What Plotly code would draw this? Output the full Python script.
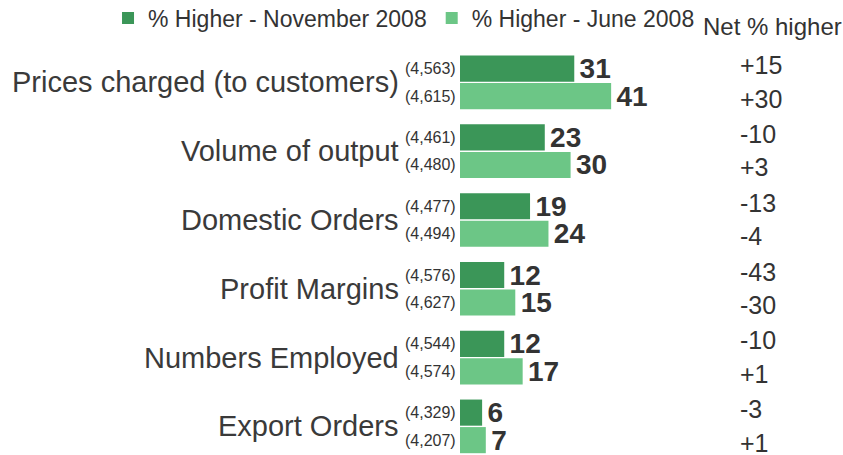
import plotly.graph_objects as go

categories = ["Prices charged (to customers)", "Volume of output", "Domestic Orders",
              "Profit Margins", "Numbers Employed", "Export Orders"]
nov_values = [31, 23, 19, 12, 12, 6]
jun_values = [41, 30, 24, 15, 17, 7]
nov_counts = ["(4,563)", "(4,461)", "(4,477)", "(4,576)", "(4,544)", "(4,329)"]
jun_counts = ["(4,615)", "(4,480)", "(4,494)", "(4,627)", "(4,574)", "(4,207)"]
net_nov = ["+15", "-10", "-13", "-43", "-10", "-3"]
net_jun = ["+30", "+3", "-4", "-30", "+1", "+1"]

DARK = "#3b9658"
LIGHT = "#6cc686"
TXT = "#333333"
FONT = "Arial, Liberation Sans, sans-serif"

fig = go.Figure()
for vals, name, col in [(nov_values, "% Higher - November 2008", DARK),
                        (jun_values, "% Higher - June 2008", LIGHT)]:
    fig.add_trace(go.Bar(
        y=categories, x=vals, orientation="h", name=name,
        marker=dict(color=col, line=dict(width=0)),
        texttemplate="\u200a<b>%{x}</b>", textposition="outside", constraintext="none",
        textfont=dict(size=28, color=TXT, family=FONT), cliponaxis=False,
    ))

ann = []
for i, cat in enumerate(categories):
    ann.append(dict(x=-0.154, xref="paper", y=i, yref="y", text=cat, showarrow=False,
                    xanchor="right", yanchor="middle", font=dict(size=29, color="#3a3a3a", family=FONT)))
    ann.append(dict(x=-0.0052, xref="paper", y=i - 0.2, yref="y", text=nov_counts[i], showarrow=False,
                    xanchor="right", yanchor="middle", font=dict(size=16, color=TXT, family=FONT)))
    ann.append(dict(x=-0.0052, xref="paper", y=i + 0.2, yref="y", text=jun_counts[i], showarrow=False,
                    xanchor="right", yanchor="middle", font=dict(size=16, color=TXT, family=FONT)))
    ann.append(dict(x=0.7258, xref="paper", y=i - 0.25, yref="y", text=net_nov[i], showarrow=False,
                    xanchor="left", yanchor="middle", font=dict(size=25, color=TXT, family=FONT)))
    ann.append(dict(x=0.7258, xref="paper", y=i + 0.235, yref="y", text=net_jun[i], showarrow=False,
                    xanchor="left", yanchor="middle", font=dict(size=25, color=TXT, family=FONT)))
ann.append(dict(x=0.6292, xref="paper", y=1.0516, yref="paper", text="Net % higher", showarrow=False,
                xanchor="left", yanchor="middle", font=dict(size=24, color=TXT, family=FONT)))

fig.update_layout(
    width=843, height=455,
    margin=dict(l=460, r=0, t=48, b=0, autoexpand=False),
    paper_bgcolor="white", plot_bgcolor="white",
    barmode="group", bargap=0.2, bargroupgap=0.05,
    font=dict(family=FONT, color=TXT),
    xaxis=dict(range=[0, 103.9], visible=False, fixedrange=True),
    yaxis=dict(range=[5.416, -0.5], showticklabels=False, showgrid=False, zeroline=False,
               showline=False, ticks="", fixedrange=True),
    showlegend=True,
    legend=dict(orientation="h", x=-0.919, xanchor="left", y=1.0737, yanchor="middle",
                font=dict(size=23, color=TXT, family=FONT), bgcolor="rgba(0,0,0,0)",
                traceorder="normal", itemwidth=30),
    annotations=ann,
)

fig.write_html("out.html", config={"displayModeBar": False},
               post_script="document.body.style.margin='0';document.body.style.overflow='hidden';")
